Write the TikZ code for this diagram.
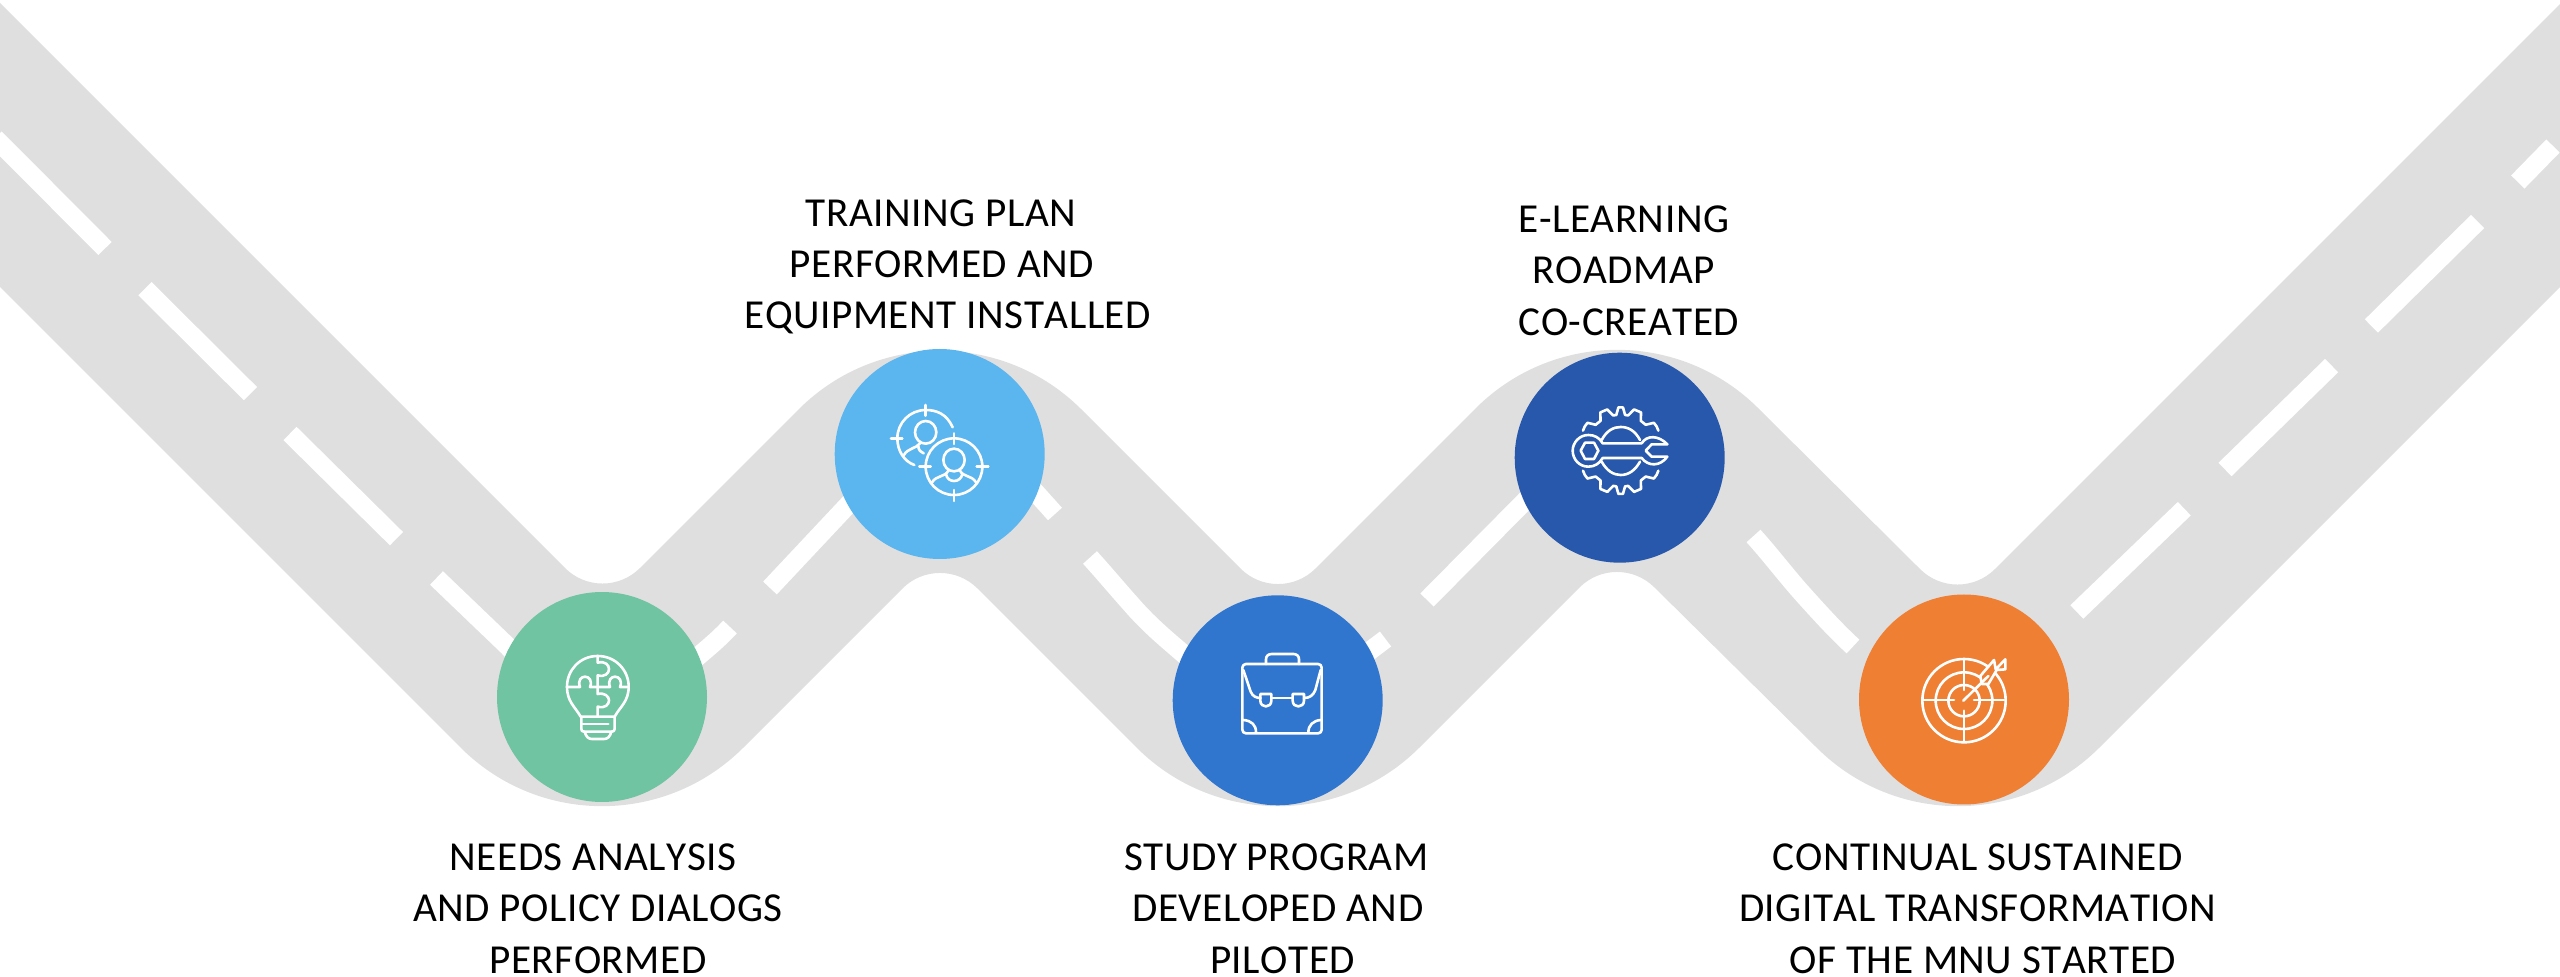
\documentclass[tikz,border=0pt]{standalone}
\usepackage{fontspec}
\setmainfont[Kerning=Off,LetterSpace=1.3]{Carlito}
\newcommand{\rnd}[4]{-- ({#1-(#3)},{#2-(#4)}) .. controls ({#1-0.4477*(#3)},{#2-0.4477*(#4)}) and ({#1+0.4477*(#3)},{#2-0.4477*(#4)}) .. ({#1+(#3)},{#2-(#4)})}
\definecolor{roadgrey}{HTML}{DFDFDF}
\definecolor{cgreen}{HTML}{70C4A2}
\definecolor{clight}{HTML}{5BB5EE}
\definecolor{cblue}{HTML}{3176CE}
\definecolor{cdark}{HTML}{2858AB}
\definecolor{corange}{HTML}{EE7F33}
\tikzset{
  road/.style={fill=roadgrey},
  lane/.style={draw=white,line width=9.35pt,line cap=butt},
  stopdisc/.style={circle,minimum size=105pt,inner sep=0pt,draw=none},
  caption/.style={align=center,text=black,inner sep=0pt,font=\fontsize{20.6}{25.65}\selectfont},
  icon/.style={draw=white,line width=1.3pt,line cap=round,line join=round},
  zoomed/.style={x=0.16667pt,y=-0.16667pt}
}
\begin{document}
\begin{tikzpicture}[x=0.5pt,y=-0.5pt]
\useasboundingbox (0,0) rectangle (2560,977);
\clip (0,0) rectangle (2560,977);
% road
\fill[road] (-10,-7)
  \rnd{602.5}{605.5}{37.5}{37.5}
  \rnd{940}{268}{141.4}{-141.4}
  \rnd{1278}{606}{37.5}{37.5}
  \rnd{1617}{267}{141.4}{-141.4}
  \rnd{1957.5}{606.5}{37.5}{37.5}
  -- (2570,-6) -- (2570,277)
  \rnd{1958}{889}{-141.4}{141.4}
  \rnd{1617}{550}{-37.5}{-37.5}
  \rnd{1278}{889}{-141.4}{141.4}
  \rnd{940}{551}{-37.5}{-37.5}
  \rnd{602}{889}{-141.4}{141.4}
  -- (-10,277) -- cycle;
% lane markings
\draw[lane] (-5,138) -- (105,248.5);
\draw[lane] (145,288.7) -- (250.5,393.7);
\draw[lane] (290,433.5) -- (396.5,538.7);
\draw[lane] (436.5,578) -- (508,646.5) -- (540,680);
\draw[lane] (730,627) .. controls (718,640) and (708,648) .. (670,680);
\draw[lane] (770,588) -- (847,506) -- (880,470);
\draw[lane] (1000,455) -- (1037,494) -- (1055,514);
\draw[lane] (1090,557.5) .. controls (1105,574) and (1120,592) .. (1130,603) .. controls (1148,624) and (1165,638) .. (1183,653.5) -- (1220,685);
\draw[lane] (1385.5,639) -- (1371,650) -- (1340,675);
\draw[lane] (1427,600) -- (1523.5,502.5) -- (1560,465);
\draw[lane] (1753.5,536) .. controls (1769,553) and (1785,574) .. (1800,591) .. controls (1817,610) and (1835,630) .. (1853,646.5);
\draw[lane] (2076.8,612) -- (2184.3,508.7);
\draw[lane] (2225,469.5) -- (2331.6,365.6);
\draw[lane] (2371.4,326) -- (2477.6,221.5);
\draw[lane] (2517.8,182) -- (2553,146);
% stops
\node[stopdisc,fill=cgreen] (needs) at (602,697) {};
\node[stopdisc,fill=clight] (training) at (939.7,454) {};
\node[stopdisc,fill=cblue] (study) at (1277.7,700.3) {};
\node[stopdisc,fill=cdark] (elearn) at (1619.7,457.7) {};
\node[stopdisc,fill=corange] (target) at (1964,699.5) {};
% captions
\node[caption] (capneeds) at (598,908.7) {NEEDS ANALYSIS\hspace*{5pt}\\AND POLICY DIALOGS\\PERFORMED};
\node[caption] (captraining) at (942,267) {TRAINING PLAN\hspace*{0.8pt}\\PERFORMED AND\\\hspace*{5.7pt}EQUIPMENT INSTALLED};
\node[caption] (capstudy) at (1277.8,908.7) {STUDY PROGRAM\hspace*{1.5pt}\\DEVELOPED AND\\\hspace*{4.7pt}PILOTED};
\node[caption] (capelearn) at (1623.8,270.7) {E-LEARNING\\ROADMAP\\\hspace*{5pt}CO-CREATED};
\node[caption] (captarget) at (1977.6,908.7) {CONTINUAL SUSTAINED\\DIGITAL TRANSFORMATION\\\hspace*{5.4pt}OF THE MNU STARTED};
% icon: bulb with puzzle
\begin{scope}[shift={(440,560)},zoomed]
\draw[icon] (422,470) .. controls (405,440) and (381,425) .. (381,380) .. controls (381,330) and (420,288) .. (473,288) .. controls (526,288) and (566,330) .. (566,380) .. controls (566,425) and (540,440) .. (524,470);
\draw[icon] (422,470) -- (524,470) (424,470) -- (424,506) .. controls (424,512) and (426,515) .. (432,515) -- (515,515) .. controls (521,515) and (524,512) .. (524,506) -- (524,470);
\draw[icon] (425,492) -- (505,492);
\draw[icon] (434,515) .. controls (438,530) and (445,537) .. (456,537) -- (492,537) .. controls (503,537) and (510,530) .. (514,515);
\draw[icon] (473,288) -- (473,308) .. controls (495,302) and (507,315) .. (507,327) .. controls (507,340) and (495,352) .. (473,346) -- (473,402) .. controls (495,397) and (507,410) .. (507,421) .. controls (507,434) and (495,446) .. (473,440) -- (473,470);
\draw[icon] (381,381) -- (420,381) .. controls (412,360) and (425,350) .. (435,350) .. controls (447,350) and (458,362) .. (450,381) -- (510,381) .. controls (502,360) and (515,350) .. (525,350) .. controls (537,350) and (548,362) .. (540,381) -- (566,381);
\end{scope}
% icon: two people in crosshairs
\begin{scope}[shift={(780,320)},zoomed]
\draw[icon] (522,440) circle[radius=85];
\draw[icon] (522,340) -- (522,372) (522,510) -- (522,543) (418,440) -- (452,440) (590,440) -- (625,440);
\draw[icon] (522,420) ellipse[x radius=32,y radius=34];
\draw[icon] (456,487) .. controls (470,465) and (495,472) .. (505,452);
\draw[icon] (498,462) .. controls (502,490) and (542,490) .. (547,462);
\draw[icon] (540,452) .. controls (550,472) and (575,465) .. (588,487);
\draw[icon] (518,322) .. controls (500,282) and (470,270) .. (437,270) .. controls (390,270) and (352,308) .. (352,355) .. controls (352,392) and (372,424) .. (403,435);
\draw[icon] (437,255) -- (437,287) (333,355) -- (367,355);
\draw[icon] (437,337) ellipse[x radius=32,y radius=34];
\draw[icon] (372,405) .. controls (382,385) and (410,385) .. (420,370);
\draw[icon] (415,378) .. controls (415,390) and (422,397) .. (431,400);
\end{scope}
% icon: briefcase
\begin{scope}[shift={(1130,570)},zoomed]
\draw[icon,rounded corners=1.8pt] (337,282) rectangle (575,490);
\draw[icon] (408,282) -- (408,268) .. controls (408,258) and (415,252) .. (425,252) -- (490,252) .. controls (500,252) and (507,258) .. (507,268) -- (507,282);
\draw[icon] (340,300) -- (362,365) .. controls (368,380) and (380,384) .. (392,384);
\draw[icon] (425,384) -- (488,384);
\draw[icon] (522,384) .. controls (540,384) and (550,375) .. (556,360) -- (572,300);
\draw[icon] (391,372) -- (424,372) -- (424,392) .. controls (424,415) and (391,415) .. (391,392) -- cycle;
\draw[icon] (488,372) -- (522,372) -- (522,392) .. controls (522,415) and (488,415) .. (488,392) -- cycle;
\draw[icon] (340,450) .. controls (365,452) and (378,465) .. (378,487);
\draw[icon] (572,450) .. controls (550,452) and (535,465) .. (535,487);
\end{scope}
% icon: gear and wrench
\begin{scope}[shift={(1460,320)},zoomed]
\begin{scope}[shift={(482,392)}]
\draw[icon] (-152:128) -- (-146:130) -- (-140:130) -- (-134:108)
  -- (-124:108) -- (-118:130) -- (-108:130) -- (-102:108)
  -- (-97:108) -- (-93:130) -- (-87:130) -- (-83:108)
  -- (-78:108) -- (-72:130) -- (-62:130) -- (-56:108)
  -- (-46:108) -- (-40:130) -- (-34:130) -- (-28:128);
\draw[icon] (152:128) -- (146:130) -- (140:130) -- (134:108)
  -- (124:108) -- (118:130) -- (108:130) -- (102:108)
  -- (97:108) -- (93:130) -- (87:130) -- (83:108)
  -- (78:108) -- (72:130) -- (62:130) -- (56:108)
  -- (46:108) -- (40:130) -- (34:130) -- (28:128);
\end{scope}
\draw[icon] (425,360) .. controls (440,332) and (460,321) .. (482,321) .. controls (505,321) and (525,332) .. (540,360);
\draw[icon] (425,425) .. controls (440,452) and (460,465) .. (482,465) .. controls (505,465) and (525,452) .. (540,425);
\draw[icon] (362,392) -- (375,368) -- (402,368) -- (415,392) -- (402,417) -- (375,417) -- cycle;
\draw[icon] (545,370) -- (428,370) .. controls (418,352) and (402,345) .. (385,345) .. controls (358,345) and (338,368) .. (338,392) .. controls (338,418) and (358,440) .. (385,440) .. controls (402,440) and (418,432) .. (428,414) -- (545,414) .. controls (565,440) and (600,440) .. (622,410) -- (575,410) -- (557,392) -- (575,373) -- (622,373) .. controls (595,345) and (560,345) .. (545,370);
\end{scope}
% icon: target with dart
\begin{scope}[shift={(1800,570)},zoomed]
\draw[icon] (492,392) circle[radius=125];
\draw[icon] (492,392) circle[radius=85];
\draw[icon] (492,392) circle[radius=47];
\draw[icon] (492,268) -- (492,360) (492,422) -- (492,515) (368,390) -- (462,390) (522,390) -- (612,390);
\draw[icon,fill=corange] (541,318) -- (582,270) -- (587,298) -- (616,268) -- (616,298) -- (590,300) -- (565,342) -- (545,342) -- cycle;
\draw[icon] (490,392) -- (565,318);
\end{scope}
\end{tikzpicture}
\end{document}
